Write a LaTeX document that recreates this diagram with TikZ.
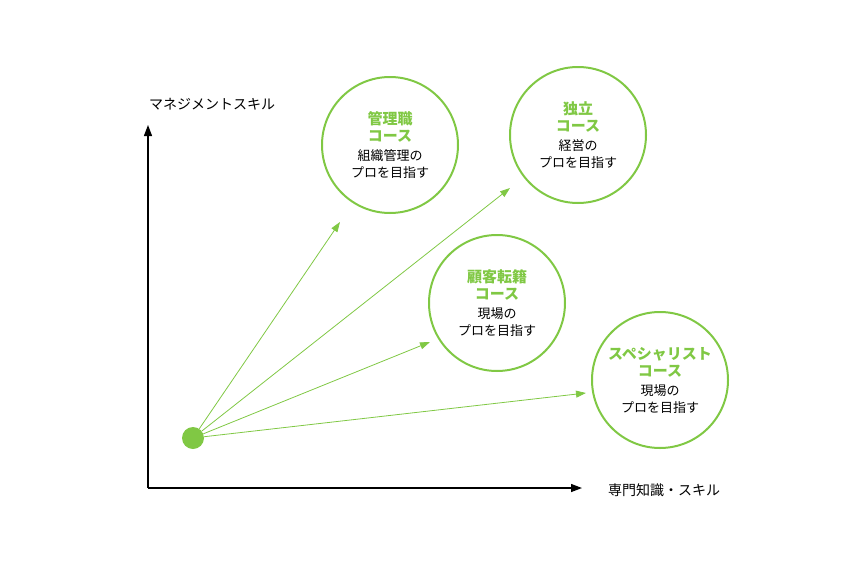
\documentclass[tikz,border=0pt]{standalone}
\usepackage{fontspec}
\setmainfont{Noto Sans CJK JP}
\usetikzlibrary{arrows.meta}
\definecolor{grn}{RGB}{128,200,68}
\newcommand{\gt}[1]{\textcolor{grn}{\fontsize{15}{19}\selectfont\bfseries #1}}
\begin{document}
\begin{tikzpicture}[x=1pt,y=-1pt,
  circ/.style={circle,draw=grn,line width=2pt,minimum size=136pt,inner sep=0pt,align=center,font=\fontsize{13}{17}\selectfont},
  gar/.style={draw=grn,line width=0.8pt,-{Triangle[length=10pt,width=7pt]}},
  ax/.style={draw=black,line width=1.3pt,-{Triangle[length=11pt,width=8pt]}},
  lab/.style={font=\fontsize{14}{16}\selectfont}]
\useasboundingbox (0,0) rectangle (860,560);
\coordinate (o) at (148,488);
\coordinate (ytop) at (148,125);
\coordinate (xend) at (582,488);
\draw[ax] (o) -- (ytop);
\draw[ax] (o) -- (xend);
\node[lab] (yl) at (212,104) {マネジメントスキル};
\node[lab] (xl) at (664,490) {専門知識・スキル};
\node[circ] (c1) at (390,145) {\gt{管理職}\\\gt{コース}\\[2pt]組織管理の\\プロを目指す};
\node[circ] (c2) at (578,135) {\gt{独立}\\\gt{コース}\\[2pt]経営の\\プロを目指す};
\node[circ] (c3) at (497,303) {\gt{顧客転籍}\\\gt{コース}\\[2pt]現場の\\プロを目指す};
\node[circ] (c4) at (660,380) {\gt{スペシャリスト}\\\gt{コース}\\[2pt]現場の\\プロを目指す};
\node[circle,fill=grn,minimum size=22pt,inner sep=0pt] (d) at (193,438) {};
\coordinate (e1) at (340,222);
\coordinate (e2) at (510,188);
\coordinate (e3) at (430,342);
\coordinate (e4) at (586,393);
\draw[gar] (d) -- (e1);
\draw[gar] (d) -- (e2);
\draw[gar] (d) -- (e3);
\draw[gar] (d) -- (e4);
\end{tikzpicture}
\end{document}
